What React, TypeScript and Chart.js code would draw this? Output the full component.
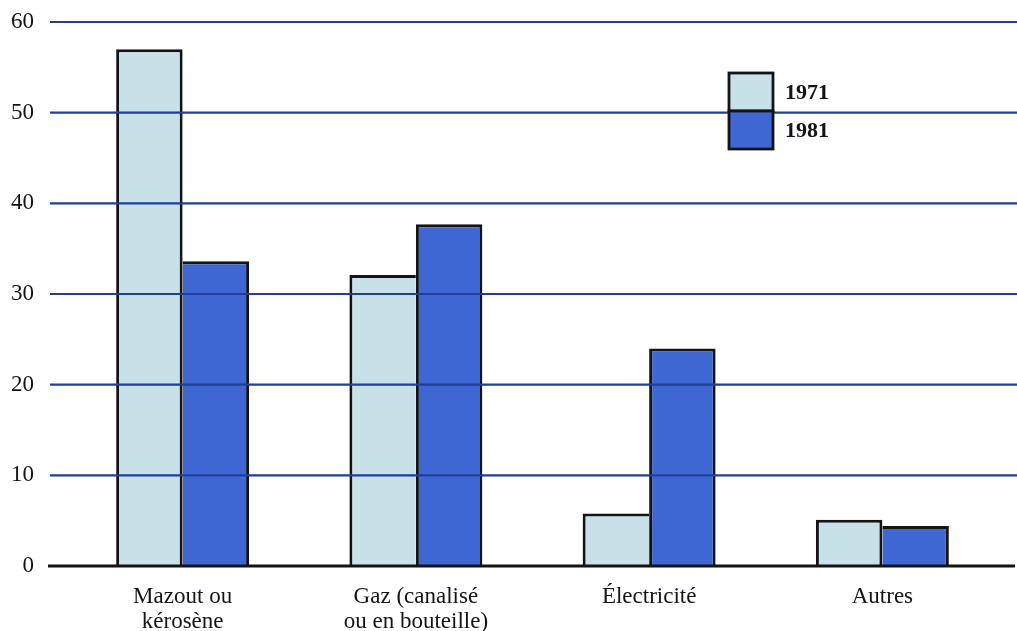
import { useEffect, useRef } from "react";
import { Chart, registerables } from "chart.js";

Chart.register(...registerables);

const categories: (string | string[])[] = [
  ["Mazout ou", "kérosène"],
  ["Gaz (canalisé", "ou en bouteille)"],
  "Électricité",
  "Autres",
];
const seriesLabels = ["1971", "1981"];
const values1971 = [57.0, 32.1, 5.8, 5.1];
const values1981 = [33.6, 37.7, 24.0, 4.4];
const yTicks = [0, 10, 20, 30, 40, 50, 60];

const COLOR_1971 = "#c8e0e7";
const COLOR_1981 = "#3f67d3";
const GRID = "#1f3f98";
const INK = "#141414";
const FONT = '"Liberation Serif", "Times New Roman", serif';

const series = [values1971, values1981];

function borderFor(dsIndex: number) {
  return (ctx: any) => {
    const W = 3;
    if (ctx.type !== "data") return W;
    const i = ctx.dataIndex;
    const own = series[dsIndex][i];
    const other = series[1 - dsIndex][i];
    const shared = own >= other ? W : 0;
    return dsIndex === 0
      ? { top: W, left: W, right: shared, bottom: 0 }
      : { top: W, right: W, left: shared, bottom: 0 };
  };
}

const gridPlugin = {
  id: "customGrid",
  afterDatasetsDraw(chart: any) {
    const { ctx } = chart;
    const y = chart.scales.y;
    const w = chart.width;
    ctx.save();
    y.ticks.forEach((t: any) => {
      const py = y.getPixelForValue(t.value);
      ctx.beginPath();
      if (t.value === 0) {
        ctx.strokeStyle = INK;
        ctx.lineWidth = 3;
        ctx.moveTo(48, py);
        ctx.lineTo(w - 2, py);
      } else {
        ctx.strokeStyle = GRID;
        ctx.lineWidth = 2.2;
        ctx.moveTo(50, py);
        ctx.lineTo(w, py);
      }
      ctx.stroke();
    });
    ctx.restore();
  },
};

const legendPlugin = {
  id: "customLegend",
  afterDraw(chart: any) {
    const { ctx } = chart;
    ctx.save();
    chart.data.datasets.forEach((ds: any, i: number) => {
      const x = 729;
      const h = 38;
      const bw = 44;
      const top = 73 + i * h;
      ctx.fillStyle = ds.backgroundColor;
      ctx.fillRect(x, top, bw, h);
      ctx.strokeStyle = INK;
      ctx.lineWidth = 2.8;
      ctx.strokeRect(x, top, bw, h);
      ctx.fillStyle = INK;
      ctx.font = `bold 22px ${FONT}`;
      ctx.textBaseline = "middle";
      ctx.textAlign = "left";
      ctx.fillText(ds.label, 785, top + h / 2 + 1);
    });
    ctx.restore();
  },
};

export default function App() {
  const canvasRef = useRef<HTMLCanvasElement | null>(null);

  useEffect(() => {
    if (!canvasRef.current) return;
    const chart = new Chart(canvasRef.current, {
      type: "bar",
      data: {
        labels: categories,
        datasets: [
          {
            label: seriesLabels[0],
            data: values1971,
            backgroundColor: COLOR_1971,
            borderColor: INK,
            borderWidth: borderFor(0) as any,
            borderSkipped: "start",
            barPercentage: 1,
            categoryPercentage: 0.57,
          },
          {
            label: seriesLabels[1],
            data: values1981,
            backgroundColor: COLOR_1981,
            borderColor: INK,
            borderWidth: borderFor(1) as any,
            borderSkipped: "start",
            barPercentage: 1,
            categoryPercentage: 0.57,
          },
        ],
      },
      options: {
        animation: false,
        responsive: true,
        maintainAspectRatio: false,
        layout: { padding: { top: 22, right: 18, left: 0, bottom: 0 } },
        plugins: {
          legend: { display: false },
          tooltip: { enabled: false },
        },
        scales: {
          x: {
            grid: { display: false, drawTicks: false },
            border: { display: false },
            ticks: {
              color: INK,
              padding: 18,
              maxRotation: 0,
              autoSkip: false,
              font: { family: FONT, size: 23, lineHeight: 25 / 23 },
            },
            afterFit: (scale: any) => {
              scale.height = 65;
            },
          },
          y: {
            min: 0,
            max: 60,
            grid: { display: false, drawTicks: false },
            border: { display: false },
            ticks: {
              color: INK,
              padding: 32,
              font: { family: FONT, size: 23 },
            },
            afterBuildTicks: (scale: any) => {
              scale.ticks = yTicks.map((v) => ({ value: v }));
            },
            afterFit: (scale: any) => {
              scale.width = 66;
              scale.paddingTop = 0;
              scale.paddingBottom = 0;
            },
          },
        },
      },
      plugins: [gridPlugin, legendPlugin],
    });
    return () => chart.destroy();
  }, []);

  return (
    <div
      style={{
        position: "fixed",
        left: 0,
        top: 0,
        width: 1017,
        height: 631,
        background: "#ffffff",
      }}
    >
      <canvas ref={canvasRef} />
    </div>
  );
}
